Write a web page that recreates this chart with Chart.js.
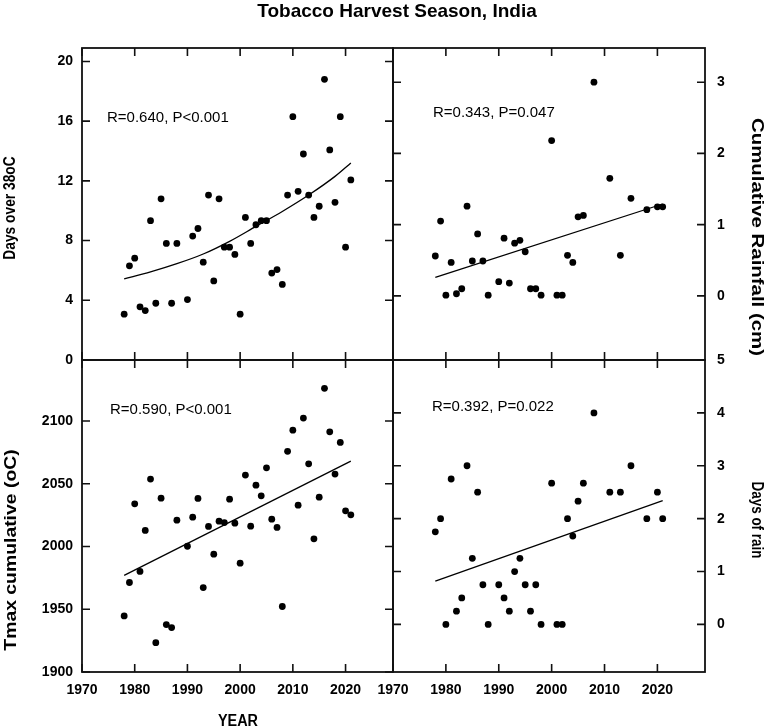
<!DOCTYPE html>
<html><head><meta charset="utf-8">
<script src="https://cdn.jsdelivr.net/npm/chart.js@4.4.1/dist/chart.umd.min.js"></script>
<style>
html,body{margin:0;padding:0;background:#fff;}
#wrap{position:relative;width:768px;height:728px;overflow:hidden;font-family:"Liberation Sans",Arial,sans-serif;color:#000;}
canvas{position:absolute;left:0;top:0;}
.t{position:absolute;white-space:nowrap;font-weight:bold;line-height:1;}
.ann{position:absolute;white-space:nowrap;font-size:15px;line-height:1;transform:translateY(-50%);}
</style></head>
<body><div id="wrap">
<canvas id="c1" width="768" height="728"></canvas>
<canvas id="c2" width="768" height="728"></canvas>
<canvas id="c3" width="768" height="728"></canvas>
<canvas id="c4" width="768" height="728"></canvas>
<div class="t" style="left:397px;top:10px;font-size:19px;transform:translate(-50%,-50%);">Tobacco Harvest Season, India</div>
<div class="t" style="left:238px;top:721px;font-size:16px;transform:translate(-50%,-50%) scaleX(0.9);">YEAR</div>
<div class="t" style="left:9px;top:208px;font-size:17px;transform:translate(-50%,-50%) rotate(-90deg) scaleX(0.81);">Days over 38oC</div>
<div class="t" style="left:10px;top:550px;font-size:17px;transform:translate(-50%,-50%) rotate(-90deg) scaleX(1.14);">Tmax cumulative (oC)</div>
<div class="t" style="left:757px;top:237px;font-size:17px;transform:translate(-50%,-50%) rotate(90deg) scaleX(1.2);">Cumulative Rainfall (cm)</div>
<div class="t" style="left:757px;top:520px;font-size:17px;transform:translate(-50%,-50%) rotate(90deg) scaleX(0.79);">Days of rain</div>
<div class="ann" style="left:107px;top:116px;">R=0.640, P&lt;0.001</div>
<div class="ann" style="left:433px;top:111px;">R=0.343, P=0.047</div>
<div class="ann" style="left:110px;top:408px;">R=0.590, P&lt;0.001</div>
<div class="ann" style="left:432px;top:405px;">R=0.392, P=0.022</div>
</div>
<script>
// ---------- data ----------
const yearTicks = [1970, 1980, 1990, 2000, 2010, 2020];

const tempYears = [1978,1979,1980,1981,1982,1983,1984,1985,1986,1987,1988,1990,1991,1992,1993,1994,1995,1996,1997,1998,1999,2000,2001,2002,2003,2004,2005,2006,2007,2008,2009,2010,2011,2012,2013,2014,2015,2016,2017,2018,2019,2020,2021];
const daysOver38 = [3.07,6.31,6.82,3.56,3.31,9.33,3.80,10.8,7.81,3.80,7.81,4.05,8.30,8.81,6.55,11.05,5.30,10.8,7.56,7.56,7.07,3.07,9.55,7.81,9.06,9.33,9.33,5.82,6.06,5.06,11.05,16.3,11.3,13.8,11.05,9.55,10.3,18.8,14.07,10.56,16.3,7.56,12.06];
const tmaxCum = [1944.7,1971.3,2034.0,1980.1,2012.8,2053.7,1923.4,2038.5,1937.8,1935.4,2021.0,2000.2,2023.4,2038.3,1967.3,2016.0,1993.9,2020.2,2019.1,2037.7,2018.6,1986.7,2056.9,2016.2,2048.9,2040.4,2062.7,2021.8,2015.2,1952.2,2075.8,2092.7,2032.9,2102.3,2065.9,2006.1,2039.3,2126.0,2091.4,2057.7,2082.9,2028.4,2025.2];

const rainYears = [1978,1979,1980,1981,1982,1983,1984,1985,1986,1987,1988,1990,1991,1992,1993,1994,1995,1996,1997,1998,2000,2001,2002,2003,2004,2005,2006,2008,2011,2013,2015,2018,2020,2021];
const rainfall = [0.56,1.05,0.01,0.47,0.03,0.10,1.26,0.49,0.87,0.49,0.01,0.20,0.81,0.18,0.74,0.78,0.62,0.10,0.10,0.01,2.18,0.01,0.01,0.57,0.47,1.11,1.13,3.00,1.65,0.57,1.37,1.21,1.25,1.25];
const rainDays = [1.75,2,0,2.75,0.25,0.5,3,1.25,2.5,0.75,0,0.75,0.5,0.25,1,1.25,0.75,0.25,0.75,0,2.67,0,0,2,1.67,2.33,2.67,4,2.5,2.5,3,2,2.5,2];

// fitted lines
const fit1Years = [1978,1983,1988,1993,1998,2003,2008,2013,2018,2021];
const fit1Vals  = [5.44,5.9,6.45,7.1,7.95,8.95,9.95,11.05,12.3,13.2];
const fitYears  = [1978, 2021];
const fit2Vals  = [0.26, 1.29];
const fit3Vals  = [1977, 2068];
const fit4Vals  = [0.82, 2.34];

const ticks1 = [0,4,8,12,16,20];
const ticks2 = [0,1,2,3];
const ticks3 = [1900,1950,2000,2050,2100];
const ticks4 = [0,1,2,3,4,5];

// ---------- helpers ----------
Chart.defaults.font.family = "'Liberation Sans', Arial, sans-serif";
Chart.defaults.color = '#000';

const pts = (xs, ys) => xs.map((x, i) => ({x, y: ys[i]}));

const framePlugin = {
  id: 'frame',
  afterDraw(chart) {
    const {ctx, chartArea: a, scales} = chart;
    const xs = scales.x, ys = scales.y;
    const yT = chart.options.plugins.frame.yTicks;
    ctx.save();
    ctx.strokeStyle = '#111';
    ctx.lineWidth = 1.6;
    ctx.beginPath();
    const L = 8;
    yearTicks.forEach(v => {
      const p = xs.getPixelForValue(v);
      ctx.moveTo(p, a.bottom); ctx.lineTo(p, a.bottom - L);
      ctx.moveTo(p, a.top); ctx.lineTo(p, a.top + L);
    });
    yT.forEach(v => {
      const p = ys.getPixelForValue(v);
      ctx.moveTo(a.left, p); ctx.lineTo(a.left + L, p);
      ctx.moveTo(a.right, p); ctx.lineTo(a.right - L, p);
    });
    ctx.stroke();
    ctx.lineWidth = 1.8;
    ctx.strokeRect(a.left, a.top, a.right - a.left, a.bottom - a.top);
    ctx.restore();
  }
};

const AREA = {l: 82, m: 393, r: 705, t: 48, mid: 360, b: 672};

function panel(id, opt) {
  const {left, right, top, bottom, yPos, yMin, yMax, yTicks, showX, showYLabels, datasets} = opt;
  const xH = showX ? 40 : 0;
  const yW = yPos === 'left' ? left : 768 - right;
  const padding = {
    left: yPos === 'left' ? 0 : left,
    right: yPos === 'right' ? 0 : 768 - right,
    top: top,
    bottom: 728 - bottom - xH
  };
  return new Chart(document.getElementById(id), {
    type: 'scatter',
    data: {datasets},
    options: {
      responsive: false,
      maintainAspectRatio: false,
      devicePixelRatio: 1,
      animation: false,
      layout: {padding},
      plugins: {legend: {display: false}, tooltip: {enabled: false}, frame: {yTicks}},
      scales: {
        x: {
          type: 'linear', position: 'bottom', min: 1970, max: 2029,
          afterBuildTicks: s => { s.ticks = yearTicks.map(v => ({value: v})); },
          afterFit: s => { s.height = xH; },
          grid: {display: true, drawOnChartArea: false, drawTicks: false},
          border: {display: false},
          ticks: {display: showX, autoSkip: false, maxRotation: 0, padding: 10,
                  font: {size: 14, weight: 'bold'}, color: '#000', callback: v => String(v)}
        },
        y: {
          type: 'linear', position: yPos, min: yMin, max: yMax,
          afterBuildTicks: s => { s.ticks = yTicks.map(v => ({value: v})); },
          afterFit: s => { s.width = yW; },
          grid: {display: true, drawOnChartArea: false, drawTicks: false},
          border: {display: false},
          ticks: {display: showYLabels, padding: yPos === 'left' ? 9 : 12,
                  font: {size: 14, weight: 'bold'}, color: '#000', callback: v => String(v)}
        }
      }
    },
    plugins: [framePlugin]
  });
}

const dot = data => ({data, pointRadius: 3.4, pointBackgroundColor: '#000', pointBorderWidth: 0, showLine: false});
const line = (data, extra) => Object.assign({data, type: 'line', showLine: true, pointRadius: 0, borderColor: '#000', borderWidth: 1.3, fill: false}, extra || {});

panel('c1', {left: AREA.l, right: AREA.m, top: AREA.t, bottom: AREA.mid, yPos: 'left', yMin: 0, yMax: 20.9, yTicks: ticks1, showX: false, showYLabels: true,
  datasets: [dot(pts(tempYears, daysOver38)), line(pts(fit1Years, fit1Vals), {cubicInterpolationMode: 'monotone'})]});
panel('c2', {left: AREA.m, right: AREA.r, top: AREA.t, bottom: AREA.mid, yPos: 'right', yMin: -0.9, yMax: 3.48, yTicks: ticks2, showX: false, showYLabels: true,
  datasets: [dot(pts(rainYears, rainfall)), line(pts(fitYears, fit2Vals))]});
panel('c3', {left: AREA.l, right: AREA.m, top: AREA.mid, bottom: AREA.b, yPos: 'left', yMin: 1900, yMax: 2148.6, yTicks: ticks3, showX: true, showYLabels: true,
  datasets: [dot(pts(tempYears, tmaxCum)), line(pts(fitYears, fit3Vals))]});
panel('c4', {left: AREA.m, right: AREA.r, top: AREA.mid, bottom: AREA.b, yPos: 'right', yMin: -0.9, yMax: 5, yTicks: ticks4, showX: true, showYLabels: true,
  datasets: [dot(pts(rainYears, rainDays)), line(pts(fitYears, fit4Vals))]});
</script>
</body></html>
